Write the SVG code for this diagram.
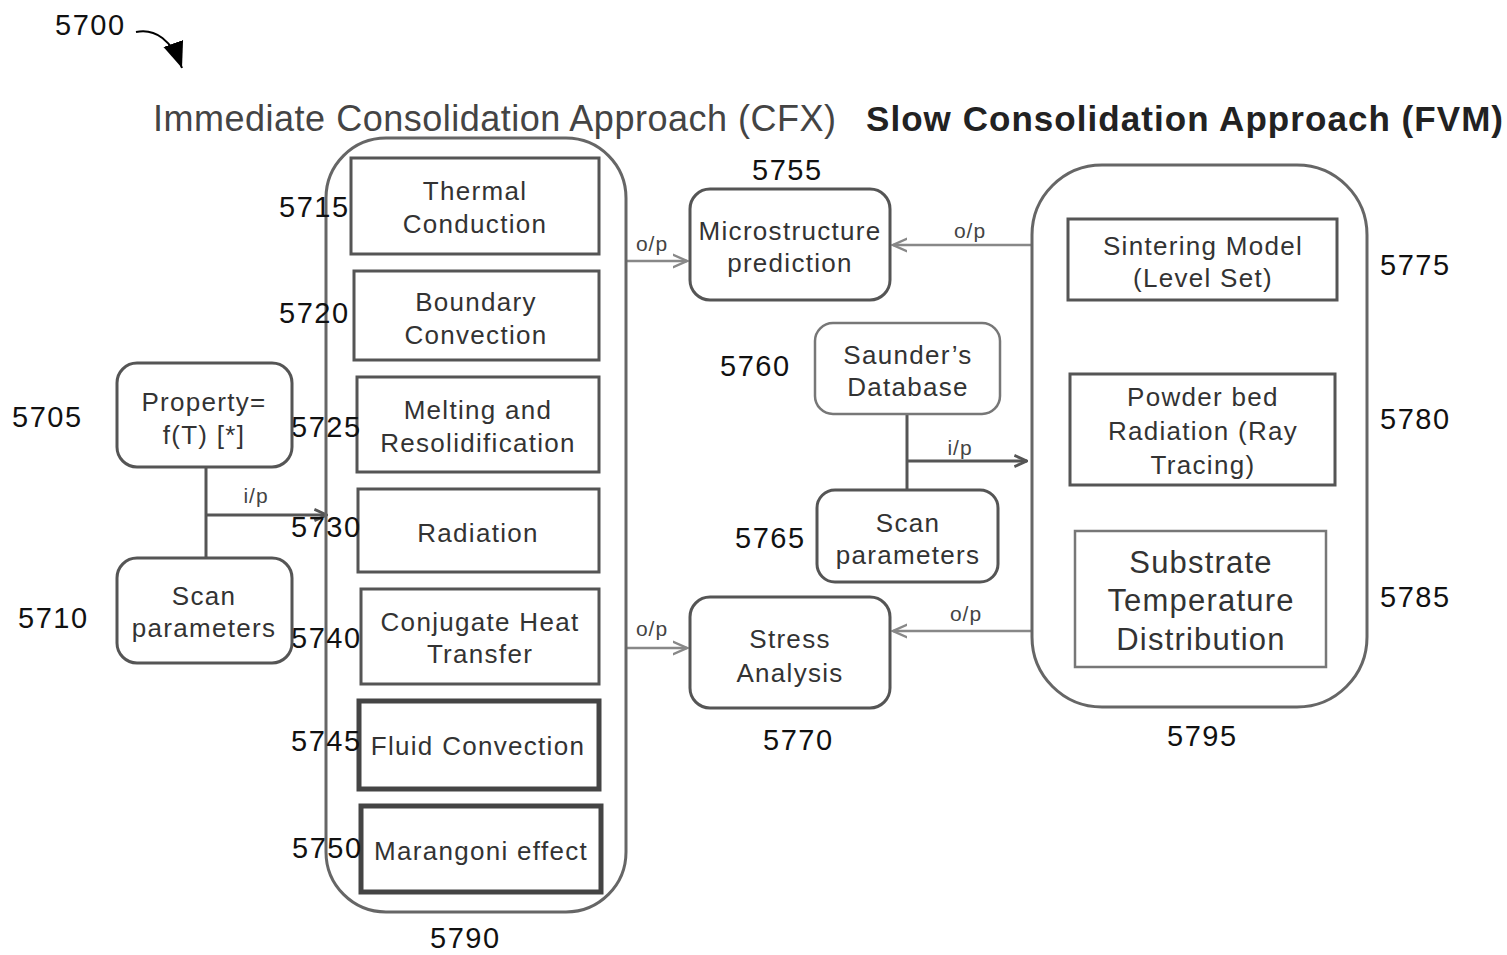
<svg xmlns="http://www.w3.org/2000/svg" width="1507" height="955" viewBox="0 0 1507 955">
<style>
text{font-family:"Liberation Sans",Arial,sans-serif}
.num{font-size:29px;fill:#111;letter-spacing:1.5px}
.t{font-size:26px;fill:#333;text-anchor:middle;letter-spacing:1.3px}
.big{font-size:31px;letter-spacing:1.2px}
.box{fill:#fff;stroke:#555;stroke-width:3}
.thick{fill:#fff;stroke:#444;stroke-width:5}
.light{fill:#fff;stroke:#777;stroke-width:2.5}
.cont{fill:none;stroke:#666;stroke-width:3}
.con{fill:none;stroke:#555;stroke-width:3}
.lcon{fill:none;stroke:#888;stroke-width:2.5}
.lbl{font-size:21px;fill:#444;text-anchor:middle;letter-spacing:1px}
</style>
<defs>
<marker id="ah" viewBox="0 0 10 10" refX="9" refY="5" markerWidth="14" markerHeight="14" orient="auto" markerUnits="userSpaceOnUse">
<path d="M0,1 L9,5 L0,9" fill="none" stroke="#555" stroke-width="2"/>
</marker>
<marker id="ahl" viewBox="0 0 10 10" refX="9" refY="5" markerWidth="16" markerHeight="16" orient="auto" markerUnits="userSpaceOnUse">
<path d="M0,1 L9,5 L0,9" fill="none" stroke="#888" stroke-width="1.5"/>
</marker>
<marker id="ahb" viewBox="0 0 10 10" refX="10" refY="5" markerWidth="26" markerHeight="26" orient="auto" markerUnits="userSpaceOnUse">
<path d="M0,1 L10,5 L0,9 Z" fill="#000"/>
</marker>
</defs>

<g id="figure-label">
<text x="55" y="35" class="num">5700</text>
<path d="M136,32 C155,28 172,40 182,68" fill="none" stroke="#000" stroke-width="2" marker-end="url(#ahb)"/>
</g>

<g id="titles">
<text x="153" y="131" font-size="36" fill="#444" textLength="683" lengthAdjust="spacing">Immediate Consolidation Approach (CFX)</text>
<text x="866" y="131" font-size="35" font-weight="bold" fill="#222" textLength="637" lengthAdjust="spacing">Slow Consolidation Approach (FVM)</text>
</g>

<g id="connectors">
<line x1="206" y1="467" x2="206" y2="558" class="con"/>
<line x1="206" y1="515" x2="327" y2="515" class="con" marker-end="url(#ah)"/>
<text x="256" y="503" class="lbl">i/p</text>
<line x1="627" y1="261" x2="687" y2="261" class="lcon" marker-end="url(#ahl)"/>
<text x="652" y="251" class="lbl">o/p</text>
<line x1="1032" y1="245" x2="893" y2="245" class="lcon" marker-end="url(#ahl)"/>
<text x="970" y="238" class="lbl">o/p</text>
<line x1="907" y1="414" x2="907" y2="490" class="con"/>
<line x1="907" y1="461" x2="1027" y2="461" class="con" marker-end="url(#ah)"/>
<text x="960" y="455" class="lbl">i/p</text>
<line x1="627" y1="648" x2="687" y2="648" class="lcon" marker-end="url(#ahl)"/>
<text x="652" y="636" class="lbl">o/p</text>
<line x1="1032" y1="631" x2="893" y2="631" class="lcon" marker-end="url(#ahl)"/>
<text x="966" y="621" class="lbl">o/p</text>
</g>

<g id="n5790">
<rect x="326" y="138" width="300" height="774" rx="60" class="cont"/>
<text x="430" y="948" class="num">5790</text>
</g>

<g id="n5715">
<rect x="351" y="158" width="248" height="96" class="box"/>
<text x="475" y="200" class="t">Thermal</text>
<text x="475" y="233" class="t">Conduction</text>
<text x="279" y="217" class="num">5715</text>
</g>
<g id="n5720">
<rect x="354" y="271" width="245" height="89" class="box"/>
<text x="476" y="311" class="t">Boundary</text>
<text x="476" y="344" class="t">Convection</text>
<text x="279" y="323" class="num">5720</text>
</g>
<g id="n5725">
<rect x="357" y="377" width="242" height="95" class="box"/>
<text x="478" y="419" class="t">Melting and</text>
<text x="478" y="452" class="t">Resolidification</text>
<text x="291" y="437" class="num">5725</text>
</g>
<g id="n5730">
<rect x="358" y="489" width="241" height="83" class="box"/>
<text x="478" y="542" class="t">Radiation</text>
<text x="291" y="537" class="num">5730</text>
</g>
<g id="n5740">
<rect x="361" y="589" width="238" height="95" class="box"/>
<text x="480" y="631" class="t">Conjugate Heat</text>
<text x="480" y="663" class="t">Transfer</text>
<text x="291" y="648" class="num">5740</text>
</g>
<g id="n5745">
<rect x="359" y="701" width="240" height="88" class="thick"/>
<text x="478" y="755" class="t">Fluid Convection</text>
<text x="291" y="751" class="num">5745</text>
</g>
<g id="n5750">
<rect x="361" y="806" width="240" height="86" class="thick"/>
<text x="481" y="860" class="t">Marangoni effect</text>
<text x="292" y="858" class="num">5750</text>
</g>

<g id="n5705">
<rect x="117" y="363" width="175" height="104" rx="20" class="box"/>
<text x="204" y="411" class="t">Property=</text>
<text x="204" y="444" class="t">f(T) [*]</text>
<text x="12" y="427" class="num">5705</text>
</g>
<g id="n5710">
<rect x="117" y="558" width="175" height="105" rx="20" class="box"/>
<text x="204" y="605" class="t">Scan</text>
<text x="204" y="637" class="t">parameters</text>
<text x="18" y="628" class="num">5710</text>
</g>

<g id="n5755">
<rect x="690" y="189" width="200" height="111" rx="20" class="box"/>
<text x="790" y="240" class="t">Microstructure</text>
<text x="790" y="272" class="t">prediction</text>
<text x="752" y="180" class="num">5755</text>
</g>
<g id="n5760">
<rect x="815" y="323" width="185" height="91" rx="18" class="light"/>
<text x="908" y="364" class="t">Saunder’s</text>
<text x="908" y="396" class="t">Database</text>
<text x="720" y="376" class="num">5760</text>
</g>
<g id="n5765">
<rect x="817" y="490" width="181" height="92" rx="18" class="box"/>
<text x="908" y="532" class="t">Scan</text>
<text x="908" y="564" class="t">parameters</text>
<text x="735" y="548" class="num">5765</text>
</g>
<g id="n5770">
<rect x="690" y="597" width="200" height="111" rx="20" class="box"/>
<text x="790" y="648" class="t">Stress</text>
<text x="790" y="682" class="t">Analysis</text>
<text x="763" y="750" class="num">5770</text>
</g>

<g id="n5795">
<rect x="1032" y="165" width="335" height="542" rx="70" class="cont"/>
<text x="1167" y="746" class="num">5795</text>
</g>
<g id="n5775">
<rect x="1068" y="219" width="269" height="81" class="box"/>
<text x="1203" y="255" class="t">Sintering Model</text>
<text x="1203" y="287" class="t">(Level Set)</text>
<text x="1380" y="275" class="num">5775</text>
</g>
<g id="n5780">
<rect x="1070" y="374" width="265" height="111" class="box"/>
<text x="1203" y="406" class="t">Powder bed</text>
<text x="1203" y="440" class="t">Radiation (Ray</text>
<text x="1203" y="474" class="t">Tracing)</text>
<text x="1380" y="429" class="num">5780</text>
</g>
<g id="n5785">
<rect x="1075" y="531" width="251" height="136" class="light"/>
<text x="1201" y="573" class="t big">Substrate</text>
<text x="1201" y="611" class="t big">Temperature</text>
<text x="1201" y="650" class="t big">Distribution</text>
<text x="1380" y="607" class="num">5785</text>
</g>
</svg>
